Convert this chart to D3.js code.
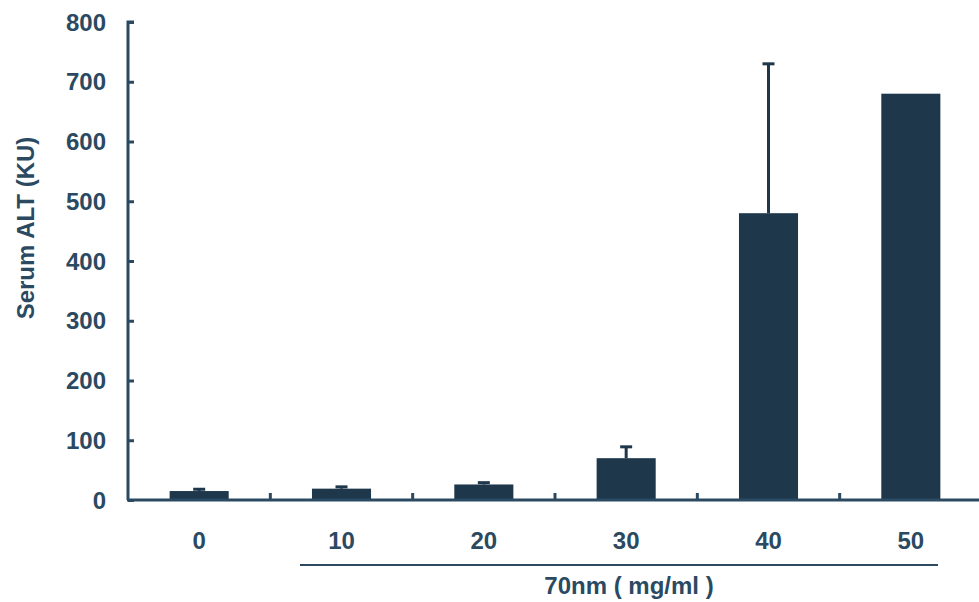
<!DOCTYPE html>
<html>
<head>
<meta charset="utf-8">
<script src="https://cdn.jsdelivr.net/npm/d3@7"></script>
<style>
  body { margin: 0; background: #fff; }
  text { font-family: "Liberation Sans", Arial, sans-serif; font-weight: bold; fill: #2b4a62; }
</style>
</head>
<body>
<div id="chart"></div>
<script>
const categories = ["0", "10", "20", "30", "40", "50"];
const means = [15, 19, 26, 70, 480, 680];
const errors = [3, 3, 3, 19, 250, 0];
const yTicks = [0, 100, 200, 300, 400, 500, 600, 700, 800];

const width = 979, height = 602;
const axisColor = "#2b4a62";
const barColor = "#1f374b";

const svg = d3.select("#chart").append("svg")
    .attr("width", width)
    .attr("height", height);

const x = d3.scaleBand()
    .domain(categories)
    .range([128, 982])
    .paddingInner(0.585)
    .paddingOuter(0.2925);

const y = d3.scaleLinear().domain([0, 800]).range([500, 22]);

// bars
svg.selectAll("rect.bar")
    .data(categories)
    .join("rect")
    .attr("class", "bar")
    .attr("x", d => x(d))
    .attr("width", x.bandwidth())
    .attr("y", (d, i) => y(means[i]))
    .attr("height", (d, i) => y(0) - y(means[i]))
    .attr("fill", barColor);

// error bars (upper only)
const errG = svg.append("g");
categories.forEach((c, i) => {
    if (!errors[i]) return;
    const cx = x(c) + x.bandwidth() / 2;
    errG.append("line")
        .attr("x1", cx).attr("x2", cx)
        .attr("y1", y(means[i])).attr("y2", y(means[i] + errors[i]))
        .attr("stroke", barColor).attr("stroke-width", 3);
    errG.append("line")
        .attr("x1", cx - 6).attr("x2", cx + 6)
        .attr("y1", y(means[i] + errors[i])).attr("y2", y(means[i] + errors[i]))
        .attr("stroke", barColor).attr("stroke-width", 3);
});

// y axis
const yAxis = svg.append("g")
    .attr("transform", "translate(128,0)")
    .call(d3.axisRight(y).tickValues(yTicks).tickSize(6).tickFormat(""));
yAxis.selectAll("line, path").attr("stroke", axisColor).attr("stroke-width", 3);
yAxis.select(".domain").attr("d", `M6,${y(800)}H0V${y(0)}`);

svg.append("g").selectAll("text")
    .data(yTicks)
    .join("text")
    .attr("x", 106)
    .attr("y", d => y(d))
    .attr("dy", "0.36em")
    .attr("text-anchor", "end")
    .style("font-size", "24px")
    .text(d => d);

// x axis baseline with separators between groups
const step = x.step();
const bounds = d3.range(1, categories.length).map(k => 128 + k * step);
svg.append("line")
    .attr("x1", 127).attr("x2", 979)
    .attr("y1", y(0)).attr("y2", y(0))
    .attr("stroke", axisColor).attr("stroke-width", 3);
svg.append("g").selectAll("line")
    .data(bounds)
    .join("line")
    .attr("x1", d => d).attr("x2", d => d)
    .attr("y1", y(0)).attr("y2", y(0) - 7)
    .attr("stroke", axisColor).attr("stroke-width", 3);

svg.append("g").selectAll("text")
    .data(categories)
    .join("text")
    .attr("x", d => x(d) + x.bandwidth() / 2)
    .attr("y", 540)
    .attr("dy", "0.36em")
    .attr("text-anchor", "middle")
    .style("font-size", "24px")
    .text(d => d);

// group bracket line under 10..50
svg.append("line")
    .attr("x1", 300).attr("x2", 938)
    .attr("y1", 565).attr("y2", 565)
    .attr("stroke", axisColor).attr("stroke-width", 2);

svg.append("text")
    .attr("x", 629)
    .attr("y", 585)
    .attr("dy", "0.36em")
    .attr("text-anchor", "middle")
    .style("font-size", "24px")
    .text("70nm ( mg/ml )");

svg.append("text")
    .attr("transform", "translate(25,228) rotate(-90)")
    .attr("dy", "0.36em")
    .attr("text-anchor", "middle")
    .style("font-size", "24px")
    .text("Serum ALT (KU)");
</script>
</body>
</html>
